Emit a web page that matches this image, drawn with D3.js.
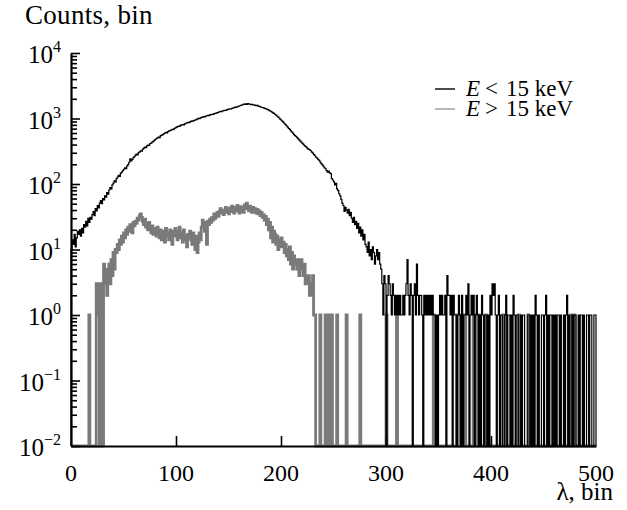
<!DOCTYPE html>
<html>
<head>
<meta charset="utf-8">
<script src="https://cdn.jsdelivr.net/npm/d3@7"></script>
<style>
  body { margin: 0; background: #fff; }
  svg { display: block; font-family: "Liberation Serif", "Times New Roman", serif; }
</style>
</head>
<body>
<svg id="chart" width="627" height="510"></svg>
<script>
// counts per bin, lambda = 0..499
const countsLow = [
  10,14,12,17,11,15,19,17,20,16,21,18,24,22,27,23,30,26,31,29,
  34,38,33,42,39,47,43,51,56,50,60,57,66,63,74,70,81,88,84,97,
  103,112,108,121,128,136,131,147,152,160,168,176,171,188,197,215,243,226,238,252,
  262,275,286,279,301,310,322,318,341,352,366,360,381,394,388,415,421,437,446,462,
  478,495,506,520,511,548,557,569,583,596,612,604,631,645,652,668,681,673,702,719,
  731,752,768,759,784,797,810,802,829,846,858,871,866,889,902,918,911,937,948,964,
  986,1003,995,1021,1038,1046,1069,1058,1087,1101,1114,1108,1136,1149,1162,1155,1183,1197,1212,1231,
  1244,1268,1281,1273,1302,1318,1336,1329,1357,1378,1392,1406,1399,1428,1446,1461,1489,1476,1512,1534,
  1552,1578,1596,1621,1660,1638,1671,1647,1685,1652,1664,1631,1649,1612,1620,1588,1571,1582,1546,1529,
  1508,1486,1472,1449,1431,1418,1392,1364,1347,1312,1290,1254,1221,1196,1152,1127,1083,1049,1018,972,
  941,904,871,832,807,768,739,704,681,648,622,597,566,548,531,509,488,472,451,437,
  418,404,386,374,362,347,338,331,322,306,297,281,270,256,249,237,229,216,205,196,
  188,177,171,160,152,157,148,144,121,115,108,97,102,84,79,71,66,58,51,47,
  38,44,40,36,41,33,37,30,26,31,24,27,21,25,18,22,16,20,14,17,
  12,11,9,13,8,10,7,11,9,6,8,10,7,9,6,5,3,1,4,3,
  0,2,4,3,2,1,3,2,1,2,1,2,1,2,1,1,2,1,2,3,
  7,2,1,3,2,0,2,3,1,6,2,1,2,2,1,0,2,1,2,1,
  2,1,2,1,2,1,1,0,1,0,1,2,1,2,1,1,2,0,4,2,
  2,1,2,0,2,1,1,0,1,2,1,0,2,0,1,1,2,1,3,0,
  1,2,1,2,0,1,2,1,0,1,0,2,1,0,1,1,0,1,0,2,
  1,3,2,3,1,0,1,2,0,1,1,0,0,1,2,0,1,1,0,1,
  0,2,1,0,1,1,0,0,1,0,1,1,0,0,0,1,1,0,1,0,
  1,0,2,1,0,1,0,0,1,1,0,1,2,0,1,0,1,1,0,1,
  0,1,0,1,1,0,1,0,0,1,0,1,2,0,1,0,0,1,0,1,
  1,0,0,1,0,1,1,0,1,0,0,1,1,0,1,1,0,0,1,1
];

const countsHigh = [
  0,0,0,0,0,0,0,0,0,0,0,0,0,0,0,0,0,1,0,0,
  0,0,0,0,3,1,3,0,2,3,0,6,3,5,2,4,6,3,7,4,
  9,5,10,9,12,10,14,12,16,13,18,15,20,17,22,19,24,21,18,26,
  23,27,25,30,28,33,35,31,27,24,29,22,25,20,26,21,18,23,17,21,
  19,16,22,18,15,20,14,19,17,13,21,16,18,14,20,15,12,19,16,21,
  17,14,19,22,15,18,13,20,16,14,11,17,15,19,14,12,18,15,10,16,
  9,13,18,14,22,28,24,19,26,12,27,24,29,26,31,28,35,30,33,37,
  32,38,42,36,40,34,39,44,37,41,35,43,38,46,40,36,44,39,47,41,
  36,45,38,43,37,48,42,51,44,39,46,40,37,44,38,42,36,41,35,39,
  33,37,31,34,28,32,24,29,20,26,15,22,13,19,17,12,16,10,14,11,
  15,11,13,9,12,8,10,7,11,6,9,5,8,6,7,5,7,4,6,7,
  5,4,6,3,4,3,4,2,3,2,4,1,1,0,0,0,0,1,0,0,
  0,0,1,0,0,1,0,0,1,0,0,0,0,1,0,0,0,0,0,0,
  0,0,1,0,0,0,0,0,0,0,0,0,0,0,0,1,0,0,0,0,
  0,0,0,0,0,0,0,0,0,0,0,0,0,0,0,0,0,0,0,0,
  1,0,0,0,0,0,0,0,0,0,1,0,0,0,0,0,0,0,0,0,
  0,0,0,0,0,0,0,0,0,0,0,0,0,0,0,0,0,0,0,0,
  0,0,0,0,0,1,0,0,0,0,0,0,0,0,0,0,0,0,0,0,
  0,0,0,0,0,0,0,1,0,1,0,0,1,0,0,1,0,0,0,0,
  0,0,0,1,0,0,1,0,1,0,0,0,0,0,0,1,0,0,0,0,
  0,0,0,0,0,0,0,0,0,0,0,1,0,1,0,0,0,0,0,0,
  0,0,0,0,0,0,1,0,0,0,0,0,0,0,0,1,0,0,0,0,
  0,0,0,0,0,0,0,0,0,0,0,0,0,0,0,0,0,0,0,0,
  0,0,0,0,0,0,0,0,0,0,0,0,0,0,0,0,1,0,0,1,
  0,0,0,0,0,0,0,0,0,0,0,0,0,0,0,0,0,0,0,0
];

const xTicks = [0, 100, 200, 300, 400, 500];
const yExponents = [-2, -1, 0, 1, 2, 3, 4];
const seriesSigns = ["<", ">"];
const seriesColors = ["#000", "#7a7a7a"];

const svg = d3.select("#chart");

const x = d3.scaleLinear().domain([0, 500]).range([71, 596]);
const y = d3.scaleLog().domain([1e-2, 1e4]).range([446, 53]);

function yPos(v) {
  return v > 0 ? y(v) : y(1e-2);
}

function histPath(counts) {
  const pts = [[0, 0]].concat(counts.map((v, i) => [i, v]), [[counts.length, 0]]);
  return d3.line()
    .x((d) => x(d[0]))
    .y((d) => yPos(d[1]))
    .curve(d3.curveStepAfter)(pts);
}

svg.append("path")
  .attr("d", histPath(countsHigh))
  .attr("fill", "none")
  .attr("stroke", seriesColors[1])
  .attr("stroke-width", 2.8);

svg.append("path")
  .attr("d", histPath(countsLow))
  .attr("fill", "none")
  .attr("stroke", seriesColors[0])
  .attr("stroke-width", 1.2);

// axes
const majors = yExponents.map((e) => Math.pow(10, e));
const minors = y.ticks().filter((t) => !majors.some((m) => Math.abs(t / m - 1) < 1e-6));

svg.append("g")
  .attr("transform", "translate(71,0)")
  .call(d3.axisLeft(y).tickValues(majors).tickSize(-9).tickSizeOuter(0).tickFormat(""));
svg.append("g")
  .attr("transform", "translate(71,0)")
  .call(d3.axisLeft(y).tickValues(minors).tickSize(-6).tickSizeOuter(0).tickFormat(""))
  .call((g) => g.select(".domain").remove());

svg.append("g")
  .attr("transform", "translate(0,446)")
  .call(d3.axisBottom(x).tickValues(xTicks.slice(1, -1)).tickSize(-10).tickSizeOuter(0).tickFormat(""));

svg.selectAll(".domain").attr("stroke-width", 2.2).attr("stroke", "#000");
svg.selectAll(".tick line").attr("stroke-width", 1.6).attr("stroke", "#000");

const yLabels = svg.append("g")
  .selectAll("text")
  .data(yExponents)
  .join("text")
  .attr("x", 61)
  .attr("y", (e) => y(Math.pow(10, e)) + 10)
  .attr("text-anchor", "end")
  .attr("font-size", 25);
yLabels.append("tspan").text("10");
yLabels.append("tspan")
  .attr("dy", -11)
  .attr("font-size", 16)
  .text((e) => (e < 0 ? "\u2212" + (-e) : String(e)));

svg.append("g")
  .selectAll("text")
  .data(xTicks)
  .join("text")
  .attr("x", (d) => x(d))
  .attr("y", 481)
  .attr("text-anchor", "middle")
  .attr("font-size", 24)
  .text((d) => d);

svg.append("text")
  .attr("x", 25)
  .attr("y", 24)
  .attr("font-size", 27)
  .attr("letter-spacing", 0.3)
  .text("Counts, bin");

svg.append("text")
  .attr("x", 613)
  .attr("y", 500)
  .attr("text-anchor", "end")
  .attr("font-size", 25)
  .text("\u03bb, bin");

// legend
const legend = svg.append("g")
  .selectAll("g")
  .data(seriesSigns)
  .join("g")
  .attr("transform", (d, i) => `translate(0,${89 + i * 20})`);

legend.append("line")
  .attr("x1", 435)
  .attr("x2", 455)
  .attr("stroke", (d, i) => (i === 0 ? "#000" : "#999"))
  .attr("stroke-width", 1.4);

const legendText = legend.append("text")
  .attr("y", 7)
  .attr("font-size", 23);
legendText.append("tspan").attr("x", 466).attr("font-style", "italic").text("E");
legendText.append("tspan").attr("x", 485).text((d) => d);
legendText.append("tspan").attr("x", 506).text("15 keV");
</script>
</body>
</html>
